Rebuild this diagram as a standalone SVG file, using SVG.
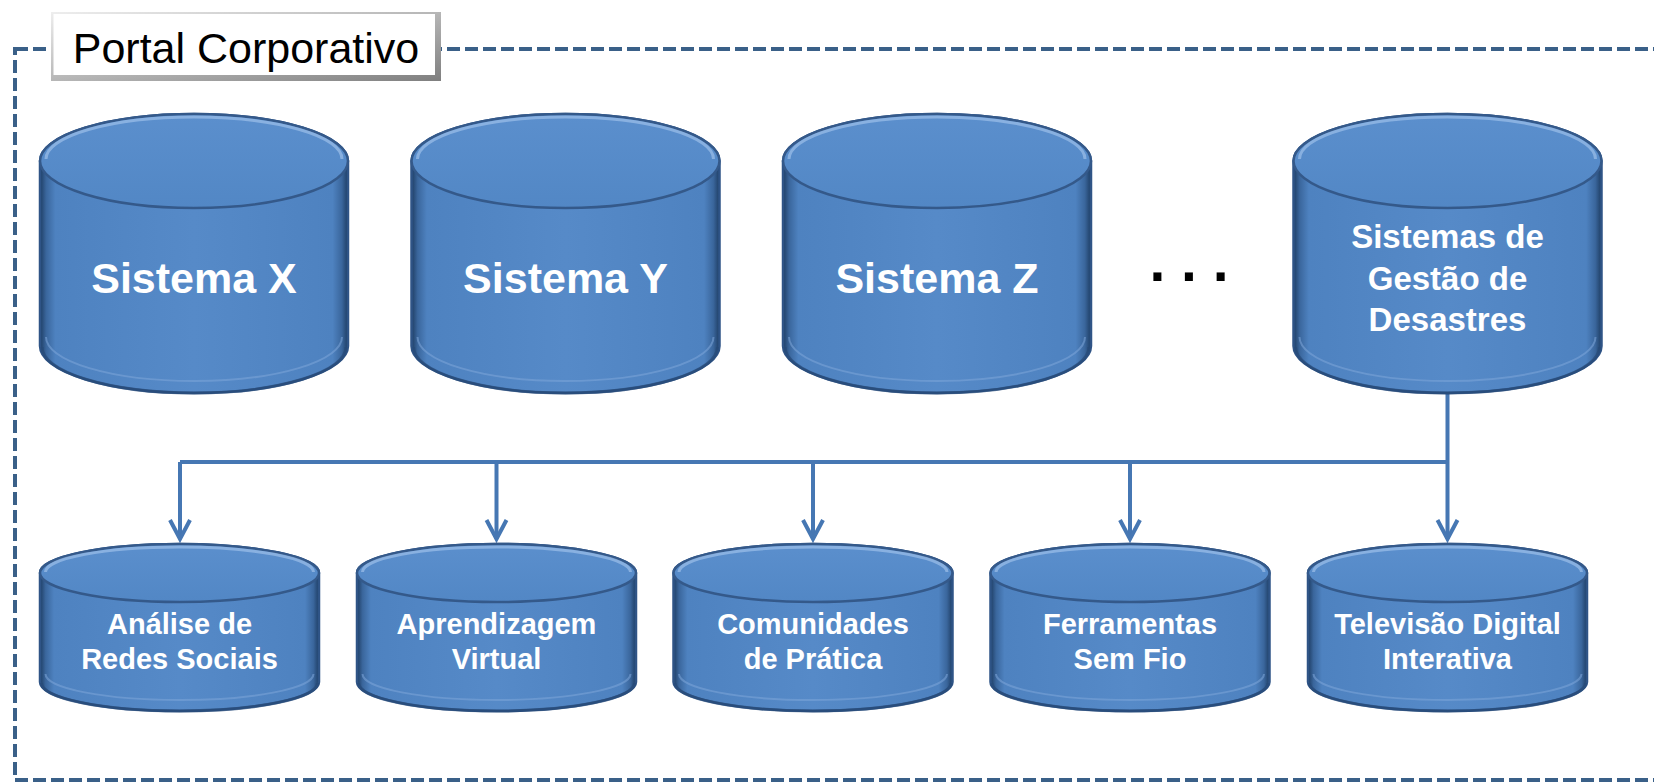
<svg xmlns="http://www.w3.org/2000/svg" xmlns:xlink="http://www.w3.org/1999/xlink" width="1654" height="783" viewBox="0 0 1654 783">
<style>
.frame{fill:none;stroke:#3a6088;stroke-width:4;stroke-dasharray:13 5}
.big{font-family:"Liberation Sans",Arial,sans-serif;font-weight:bold;font-size:43px;fill:#ffffff;text-anchor:middle}
.mid{font-family:"Liberation Sans",Arial,sans-serif;font-weight:bold;font-size:33px;fill:#ffffff;text-anchor:middle}
.small{font-family:"Liberation Sans",Arial,sans-serif;font-weight:bold;font-size:29px;fill:#ffffff;text-anchor:middle}
.label{font-family:"Liberation Sans",Arial,sans-serif;font-size:43px;fill:#000000;text-anchor:middle}
.dots{font-family:"Liberation Sans",Arial,sans-serif;font-weight:bold;font-size:57px;fill:#000000;text-anchor:middle}
.conn{fill:none;stroke:#4677b3;stroke-width:4}
.body{fill:url(#bodyGrad);stroke:#2f5486;stroke-width:2.5}
.top{fill:url(#topGrad);stroke:#34598a;stroke-width:2.5}
.hi{fill:none;stroke:#a9c8ef;stroke-width:3;opacity:0.6}
.lo{fill:none;stroke:#7da5d8;stroke-width:2;opacity:0.55}
.rim{fill:none;stroke:#274a78;stroke-width:3;opacity:0.7}
</style>
<defs>
<linearGradient id="bodyGrad" x1="0" y1="0" x2="1" y2="0">
<stop offset="0" stop-color="#1e3d63"/>
<stop offset="0.02" stop-color="#3a669c"/>
<stop offset="0.05" stop-color="#4e82c0"/>
<stop offset="0.5" stop-color="#568ac8"/>
<stop offset="0.95" stop-color="#4e82c0"/>
<stop offset="0.98" stop-color="#3a669c"/>
<stop offset="1" stop-color="#1e3d63"/>
</linearGradient>
<linearGradient id="topGrad" x1="0" y1="0" x2="0" y2="1">
<stop offset="0" stop-color="#5b8fcd"/>
<stop offset="1" stop-color="#5287c5"/>
</linearGradient>
<linearGradient id="hiGrad" x1="0" y1="0" x2="1" y2="0">
<stop offset="0" stop-color="#a9c8ef" stop-opacity="0"/>
<stop offset="0.2" stop-color="#a9c8ef" stop-opacity="1"/>
<stop offset="0.8" stop-color="#a9c8ef" stop-opacity="1"/>
<stop offset="1" stop-color="#a9c8ef" stop-opacity="0"/>
</linearGradient>
<linearGradient id="bevel" x1="0" y1="0" x2="1" y2="1">
<stop offset="0" stop-color="#eeeeee"/>
<stop offset="1" stop-color="#7f7f7f"/>
</linearGradient>
<marker id="arr" markerUnits="userSpaceOnUse" markerWidth="40" markerHeight="40" viewBox="-30 -20 40 40" refX="0" refY="0" orient="auto">
<path d="M-19,-10 L0,0 L-19,10" fill="none" stroke="#4677b3" stroke-width="4"/>
</marker>
<g id="cylBig">
<path class="body" d="M-154,0 A154,47 0 0 1 154,0 V185 A154,47 0 0 1 -154,185 Z"/>
<path class="lo" d="M-148,176 A148,44 0 0 0 148,176"/>
<path class="rim" d="M-152,186 A152,46 0 0 0 152,186"/>
<ellipse class="top" cx="0" cy="0" rx="154" ry="47"/>
<path class="hi" stroke="url(#hiGrad)" d="M-148,-2 A148,42 0 0 1 148,-2"/>
</g>
<g id="cylSmall">
<path class="body" d="M-139.5,0 A139.5,29 0 0 1 139.5,0 V109 A139.5,29 0 0 1 -139.5,109 Z"/>
<path class="lo" d="M-134,101 A134,26 0 0 0 134,101"/>
<path class="rim" d="M-138,110 A138,28 0 0 0 138,110"/>
<ellipse class="top" cx="0" cy="0" rx="139.5" ry="29"/>
<path class="hi" stroke="url(#hiGrad)" d="M-134,-1 A134,25 0 0 1 134,-1"/>
</g>
</defs>
<rect width="1654" height="783" fill="#ffffff"/>
<g id="frame">
<rect class="frame" x="15" y="49" width="1720" height="731"/>
</g>
<g id="portal-label">
<rect x="51" y="12" width="390" height="69" fill="url(#bevel)"/>
<rect x="53.5" y="14" width="381.5" height="61" fill="#ffffff"/>
<text class="label" x="246" y="63">Portal Corporativo</text>
</g>
<g id="connectors">
<path class="conn" d="M180,462 H1447.5"/>
<path class="conn" d="M1447.5,393 V539" marker-end="url(#arr)"/>
<path class="conn" d="M180,462 V539" marker-end="url(#arr)"/>
<path class="conn" d="M496.5,462 V539" marker-end="url(#arr)"/>
<path class="conn" d="M813,462 V539" marker-end="url(#arr)"/>
<path class="conn" d="M1130,462 V539" marker-end="url(#arr)"/>
</g>
<g id="sistema-x">
<use href="#cylBig" x="194" y="161"/>
<text class="big" x="194" y="293">Sistema X</text>
</g>
<g id="sistema-y">
<use href="#cylBig" x="565.5" y="161"/>
<text class="big" x="565.5" y="293">Sistema Y</text>
</g>
<g id="sistema-z">
<use href="#cylBig" x="937" y="161"/>
<text class="big" x="937" y="293">Sistema Z</text>
</g>
<g id="ellipsis">
<text class="dots" x="1189" y="281">. . .</text>
</g>
<g id="sistemas-gestao">
<use href="#cylBig" x="1447.5" y="161"/>
<text class="mid" x="1447.5" y="248">Sistemas de</text>
<text class="mid" x="1447.5" y="290">Gestão de</text>
<text class="mid" x="1447.5" y="331">Desastres</text>
</g>
<g id="analise-redes">
<use href="#cylSmall" x="179.5" y="573"/>
<text class="small" x="179.5" y="634">Análise de</text>
<text class="small" x="179.5" y="669">Redes Sociais</text>
</g>
<g id="aprendizagem">
<use href="#cylSmall" x="496.5" y="573"/>
<text class="small" x="496.5" y="634">Aprendizagem</text>
<text class="small" x="496.5" y="669">Virtual</text>
</g>
<g id="comunidades">
<use href="#cylSmall" x="813" y="573"/>
<text class="small" x="813" y="634">Comunidades</text>
<text class="small" x="813" y="669">de Prática</text>
</g>
<g id="ferramentas">
<use href="#cylSmall" x="1130" y="573"/>
<text class="small" x="1130" y="634">Ferramentas</text>
<text class="small" x="1130" y="669">Sem Fio</text>
</g>
<g id="televisao">
<use href="#cylSmall" x="1447.5" y="573"/>
<text class="small" x="1447.5" y="634">Televisão Digital</text>
<text class="small" x="1447.5" y="669">Interativa</text>
</g>
</svg>
